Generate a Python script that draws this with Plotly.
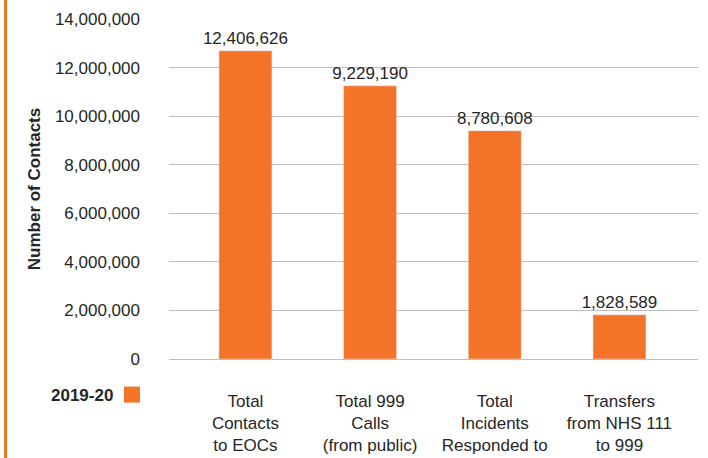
import plotly.graph_objects as go

categories = ["Total<br>Contacts<br>to EOCs", "Total 999<br>Calls<br>(from public)",
              "Total<br>Incidents<br>Responded to", "Transfers<br>from NHS 111<br>to 999"]
bar_heights = [12690000, 11250000, 9400000, 1820000]
bar_labels = ["12,406,626", "9,229,190", "8,780,608", "1,828,589"]
series_name = "2019-20"
y_ticks = [0, 2000000, 4000000, 6000000, 8000000, 10000000, 12000000, 14000000]

ORANGE = "#F37329"
TEXT = "#262626"
FONT = "Liberation Sans, Arial, sans-serif"

W, H = 708, 458
L, R, T, B = 169, 10, 19, 99
PW, PH = W - L - R, H - T - B


def px_x(x):
    return (x - L) / PW


def px_y(y):
    return (H - B - y) / PH


fig = go.Figure()
fig.add_trace(go.Bar(
    x=categories, y=bar_heights, text=bar_labels, textposition="outside",
    constraintext="none",
    textfont=dict(size=17, color=TEXT, family=FONT), marker_color=ORANGE,
    width=0.425, showlegend=False, cliponaxis=False,
    hoverinfo="skip",
))
# legend swatch for the series
fig.add_trace(go.Scatter(
    x=[None], y=[None], mode="markers", name="",
    marker=dict(symbol="square", size=16, color=ORANGE, line=dict(width=0)),
    showlegend=True, hoverinfo="skip",
))

fig.update_layout(
    width=W, height=H,
    margin=dict(l=L, r=R, t=T, b=B, autoexpand=False),
    paper_bgcolor="white", plot_bgcolor="white",
    font=dict(family=FONT, size=17, color=TEXT),
    legend=dict(
        x=px_x(124 - 12), xanchor="left", y=px_y(395), yanchor="middle",
        bgcolor="rgba(0,0,0,0)", font=dict(size=17), itemsizing="trace",
        itemwidth=30,
    ),
    annotations=[dict(
        text="<b>" + series_name + "</b>", xref="paper", yref="paper",
        x=px_x(115), y=px_y(395), xanchor="right", yanchor="middle",
        showarrow=False, font=dict(size=17, color=TEXT),
    )],
    xaxis=dict(
        range=[-0.613, 3.63], showgrid=False, showline=False, zeroline=False,
        ticks="", tickfont=dict(size=17, color=TEXT), ticklabelstandoff=30,
    ),
    yaxis=dict(
        range=[0, 14000000], tickvals=y_ticks, tickformat=",d",
        showgrid=True, gridcolor="#BDBDBD", gridwidth=1,
        zeroline=True, zerolinecolor="#BDBDBD", zerolinewidth=1,
        showline=False, ticks="", ticklabelstandoff=28,
        tickfont=dict(size=17, color=TEXT),
        title=dict(text="<b>Number of Contacts</b>", font=dict(size=17, color=TEXT), standoff=9),
    ),
    shapes=[dict(type="line", xref="paper", yref="paper",
                 x0=px_x(5.5), x1=px_x(5.5), y0=px_y(H), y1=px_y(0),
                 line=dict(color=ORANGE, width=3))],
)

fig.write_html("out.html", config={"displayModeBar": False},
               post_script="document.body.style.margin='0';")
